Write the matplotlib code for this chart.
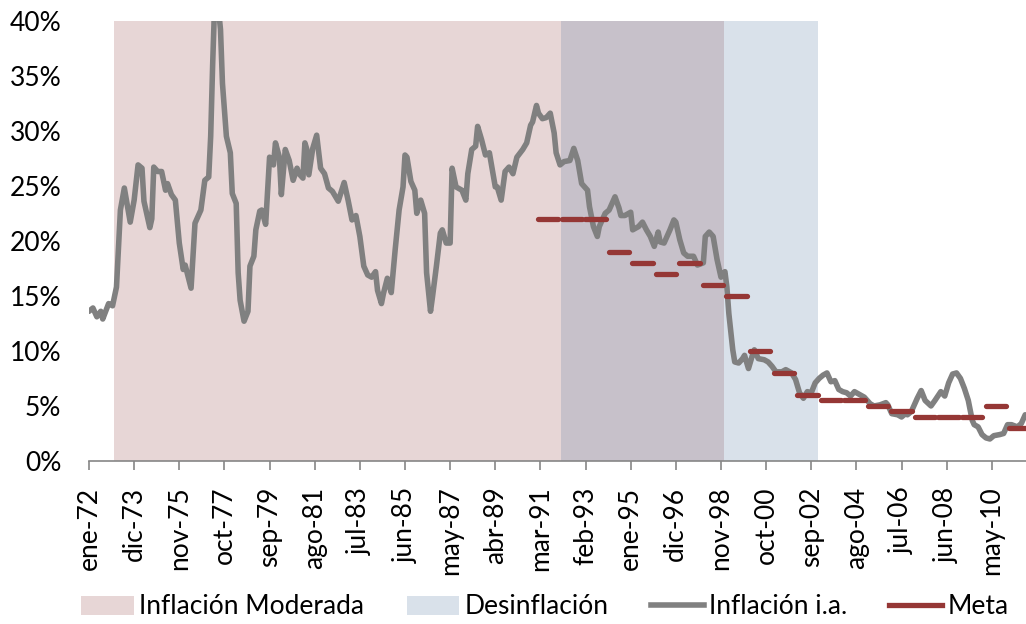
import matplotlib
matplotlib.use("Agg")
import matplotlib.pyplot as plt
from matplotlib.patches import Patch
from matplotlib.lines import Line2D
from matplotlib.ticker import FuncFormatter

plt.rcParams['font.family'] = ['Lato', 'DejaVu Sans']

# meses desde ene-72 y inflación anual (%)
meses = [0, 2, 4, 6, 7, 10, 12, 14, 16, 18, 21, 23, 25, 27, 28, 31, 32, 33, 35, 37,
         39, 40, 42, 44, 46, 48, 49, 52, 54, 57, 59, 61, 62, 63, 64, 65, 66, 67, 68, 70,
         72, 73, 75, 76, 77, 79, 81, 82, 84, 85, 87, 88, 90, 92, 94, 95, 97, 98, 100, 102,
         104, 106, 107, 109, 110, 111, 112, 114, 116, 118, 120, 122, 124, 127, 130, 132, 134, 136, 138, 140,
         142, 144, 146, 147, 149, 150, 152, 154, 156, 158, 160, 161, 162, 164, 166, 167, 169, 171, 172, 174,
         175, 177, 179, 180, 182, 184, 185, 187, 190, 192, 193, 195, 197, 198, 200, 202, 204, 207, 208, 210,
         212, 214, 216, 218, 221, 223, 225, 226, 228, 229, 231, 233, 235, 237, 238, 240, 242, 245, 247, 249,
         251, 254, 255, 257, 259, 260, 263, 265, 268, 270, 271, 273, 276, 277, 280, 282, 284, 286, 288, 290,
         291, 293, 296, 298, 299, 301, 303, 305, 308, 310, 313, 314, 316, 318, 320, 322, 324, 325, 326, 328,
         329, 331, 333, 334, 336, 338, 339, 341, 344, 346, 348, 350, 353, 355, 358, 360, 362, 364, 366, 368,
         370, 372, 374, 376, 378, 380, 382, 384, 386, 388, 390, 393, 395, 398, 400, 403, 406, 407, 409, 412,
         414, 416, 417, 419, 422, 424, 426, 429, 431, 434, 436, 438, 440, 442, 444, 446, 448, 450, 451, 453,
         455, 457, 459, 461, 464, 466, 468, 470, 473, 475, 477]
inflacion = [13.6, 13.9, 13.1, 13.6, 12.9, 14.3, 14.1, 15.8, 22.8, 24.8, 21.7, 23.7, 26.9, 26.6, 23.6, 21.2, 22.0, 26.7, 26.3, 26.3,
             24.6, 25.2, 24.2, 23.7, 19.8, 17.4, 17.8, 15.7, 21.6, 22.8, 25.5, 25.8, 29.5, 36.0, 41.5, 42.5, 41.0, 39.2, 34.3, 29.5,
             28.0, 24.3, 23.4, 17.1, 14.6, 12.7, 13.6, 17.7, 18.6, 21.0, 22.7, 22.8, 21.5, 27.6, 26.9, 28.9, 27.6, 24.2, 28.3, 27.3,
             25.5, 26.6, 26.1, 25.7, 28.9, 28.3, 26.0, 28.4, 29.6, 26.6, 26.1, 24.8, 24.5, 23.6, 25.3, 23.7, 21.9, 22.3, 20.4, 17.7,
             16.9, 16.7, 17.2, 15.5, 14.3, 15.2, 16.6, 15.3, 19.2, 22.8, 24.9, 27.8, 27.6, 25.4, 24.6, 22.5, 23.7, 22.5, 17.1, 13.6,
             14.9, 17.7, 20.7, 21.0, 19.8, 19.8, 26.6, 24.9, 24.6, 23.7, 26.1, 28.3, 28.6, 30.4, 29.2, 27.8, 28.0, 24.9, 24.9, 23.7,
             26.3, 26.7, 26.1, 27.6, 28.3, 28.9, 30.5, 30.8, 32.3, 31.6, 31.1, 31.2, 31.6, 29.8, 28.0, 26.9, 27.2, 27.3, 28.4, 27.3,
             25.2, 24.6, 23.1, 21.3, 20.4, 21.3, 22.5, 22.8, 24.0, 23.0, 22.3, 22.3, 22.6, 21.0, 21.3, 21.7, 21.0, 20.4, 19.5, 20.8,
             19.9, 19.8, 21.0, 21.9, 21.7, 20.1, 18.9, 18.6, 18.6, 17.8, 18.0, 20.4, 20.8, 20.4, 18.3, 16.7, 17.2, 15.8, 13.4, 10.1,
             9.0, 8.9, 9.3, 9.6, 8.4, 9.6, 10.1, 9.3, 9.2, 9.0, 8.6, 8.1, 8.1, 8.3, 8.0, 7.4, 6.2, 5.7, 6.3, 6.2,
             7.1, 7.5, 7.8, 8.0, 7.2, 7.3, 6.5, 6.3, 6.2, 5.9, 6.3, 6.0, 5.8, 5.2, 5.0, 5.1, 5.3, 5.1, 4.3, 4.2,
             4.0, 4.3, 4.2, 4.5, 5.7, 6.4, 5.5, 5.0, 5.5, 6.3, 5.9, 7.1, 7.9, 8.0, 7.5, 6.6, 5.5, 3.7, 3.3, 3.1,
             2.4, 2.1, 2.0, 2.3, 2.4, 2.5, 3.3, 3.3, 3.1, 3.4, 4.2]

# meta de inflación por año
anios_meta = [1991, 1992, 1993, 1994, 1995, 1996, 1997, 1998, 1999, 2000, 2001,
              2002, 2003, 2004, 2005, 2006, 2007, 2008, 2009, 2010, 2011]
meta = [22, 22, 22, 19, 18, 17, 18, 16, 15, 10, 8,
        6, 5.5, 5.5, 5, 4.5, 4, 4, 4, 5, 3]

# periodos sombreados (meses desde ene-72)
moderada = (12.5, 323.7)
desinflacion = (240.6, 371.6)

tick_labels = ["ene-72", "dic-73", "nov-75", "oct-77", "sep-79", "ago-81", "jul-83",
               "jun-85", "may-87", "abr-89", "mar-91", "feb-93", "ene-95", "dic-96",
               "nov-98", "oct-00", "sep-02", "ago-04", "jul-06", "jun-08", "may-10"]

c_mod = "#E7D6D6"
c_des = "#D9E1EA"
c_both = "#C7C1CA"
c_line = "#808080"
c_meta = "#953735"

fig = plt.figure(figsize=(10.26, 6.24), dpi=100)
ax = fig.add_axes([89 / 1026, 163 / 624, 937 / 1026, 440.3 / 624])

ax.axvspan(moderada[0], moderada[1], color=c_mod, lw=0, zorder=0)
ax.axvspan(desinflacion[0], desinflacion[1], color=c_des, lw=0, zorder=0)
ax.axvspan(desinflacion[0], moderada[1], color=c_both, lw=0, zorder=0)

ax.plot(meses, inflacion, color=c_line, lw=4.0, solid_joinstyle='round',
        solid_capstyle='round', zorder=3)

for anio, m in zip(anios_meta, meta):
    m0 = (anio - 1972) * 12
    ax.plot([m0 + 0.8, m0 + 11.2], [m, m], color=c_meta, lw=3.8,
            solid_capstyle='round', zorder=4)

ax.set_xlim(0, 477.4)
ax.set_ylim(0, 40)
ax.set_yticks(range(0, 41, 5))
ax.yaxis.set_major_formatter(FuncFormatter(lambda v, p: f"{v:.0f}%"))
ax.set_xticks([23 * i for i in range(len(tick_labels))])
ax.set_xticklabels(tick_labels, rotation=90, va='top', ha='center')

for s in ['left', 'right', 'top']:
    ax.spines[s].set_visible(False)
ax.spines['bottom'].set_color('#868686')
ax.spines['bottom'].set_linewidth(1.2)
ax.tick_params(axis='x', length=6.5, width=1.2, color='#868686', pad=12, labelsize=19)
ax.tick_params(axis='y', length=0, pad=20, labelsize=19)

handles = [Patch(facecolor=c_mod, edgecolor='none'),
           Patch(facecolor=c_des, edgecolor='none'),
           Line2D([0], [0], color=c_line, lw=4.0),
           Line2D([0], [0], color=c_meta, lw=3.8)]
labels = ["Inflación Moderada", "Desinflación", "Inflación i.a.", "Meta"]
fig.legend(handles, labels, loc='center', bbox_to_anchor=(545 / 1026, 17 / 624),
           ncol=4, frameon=False, fontsize=19, handlelength=2.0, handletextpad=0.2,
           columnspacing=1.6, borderaxespad=0)

fig.savefig("out.png", dpi=100)
